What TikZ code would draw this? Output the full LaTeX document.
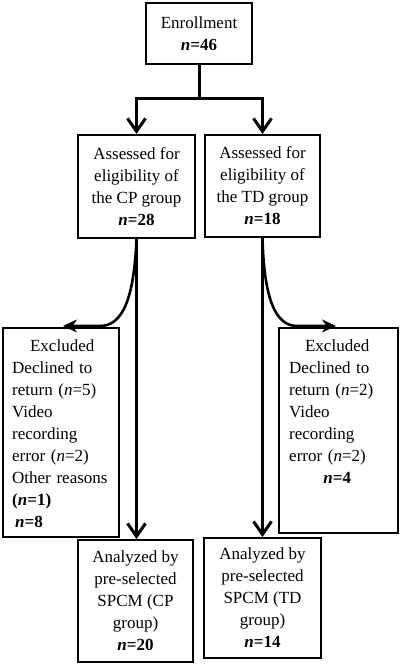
\documentclass[tikz,border=0pt]{standalone}
\usepackage{fontspec}
\setmainfont{Liberation Serif}
\usetikzlibrary{arrows.meta,calc}
\newcommand{\bn}[1]{\textbf{\textit{n}=#1}}
\newcommand{\rn}[1]{(\textit{n}=#1)}
\begin{document}
\begin{tikzpicture}[x=1pt,y=-1pt,
  box/.style={draw,line width=2pt,inner sep=0pt,align=center,
    font=\fontsize{17}{22}\selectfont},
  txt/.style={inner sep=0pt,align=left,font=\fontsize{17}{22}\selectfont},
  mainline/.style={line width=3pt},
  mainarrow/.style={line width=3pt,-{Straight Barb[length=13pt,width=18pt]}},
  exarrow/.style={line width=2.6pt,-{Stealth[length=14pt,width=13pt]}}]
\useasboundingbox (0,0) rectangle (400,667);
\node[box,minimum width=106pt,minimum height=61pt] (enr) at (199,33.5)
  {Enrollment\\ \bn{46}};
\node[box,minimum width=117pt,minimum height=103pt] (cp) at (136.5,186.5)
  {Assessed for\\ eligibility of\\ the CP group\\ \bn{28}};
\node[box,minimum width=115pt,minimum height=102pt] (td) at (262.5,186)
  {Assessed for\\ eligibility of\\ the TD group\\ \bn{18}};
\node[box,minimum width=116pt,minimum height=209pt] (excp) at (61,432.5) {};
\node[box,minimum width=119pt,minimum height=205pt] (extd) at (338.5,430.5) {};
\node[box,minimum width=115pt,minimum height=122pt] (ancp) at (135.5,601)
  {Analyzed by\\ pre-selected\\ SPCM (CP\\ group)\\ \bn{20}};
\node[box,minimum width=117pt,minimum height=120pt] (antd) at (262.5,598)
  {Analyzed by\\ pre-selected\\ SPCM (TD\\ group)\\ \bn{14}};
\node[txt,text width=100pt,anchor=north west] (excptxt) at (12,339.5)
  {\hfil Excluded\hfil\\ Declined to\\ return \rn{5}\\ Video\\ recording\\ error \rn{2}\\
   Other reasons\\ \textbf{(\textit{n}=1)}\\ \hspace*{3pt}\bn{8}};
\node[txt,text width=96pt,anchor=north west] (extdtxt) at (289,339.5)
  {\hfil Excluded\hfil\\ Declined to\\ return \rn{2}\\ Video\\ recording\\ error \rn{2}\\
   \hfil\bn{4}\hfil};
\coordinate (split) at (199,98);
\draw[mainline] (enr.south) -- (split);
\draw[mainarrow] (split) -| (cp.north);
\draw[mainarrow] (split) -| (td.north);
\draw[mainarrow] (cp.south) -- (cp.south |- ancp.north);
\draw[mainarrow] (td.south) -- (td.south |- antd.north);
\coordinate (cpbend) at (100,326);
\coordinate (tdbend) at (297,326);
\draw[exarrow] (cp.south) .. controls (134,300) and (122,326) .. (cpbend) -- (63,326);
\draw[exarrow] (td.south) .. controls (264,300) and (276,326) .. (tdbend) -- (336,326);
\end{tikzpicture}
\end{document}
